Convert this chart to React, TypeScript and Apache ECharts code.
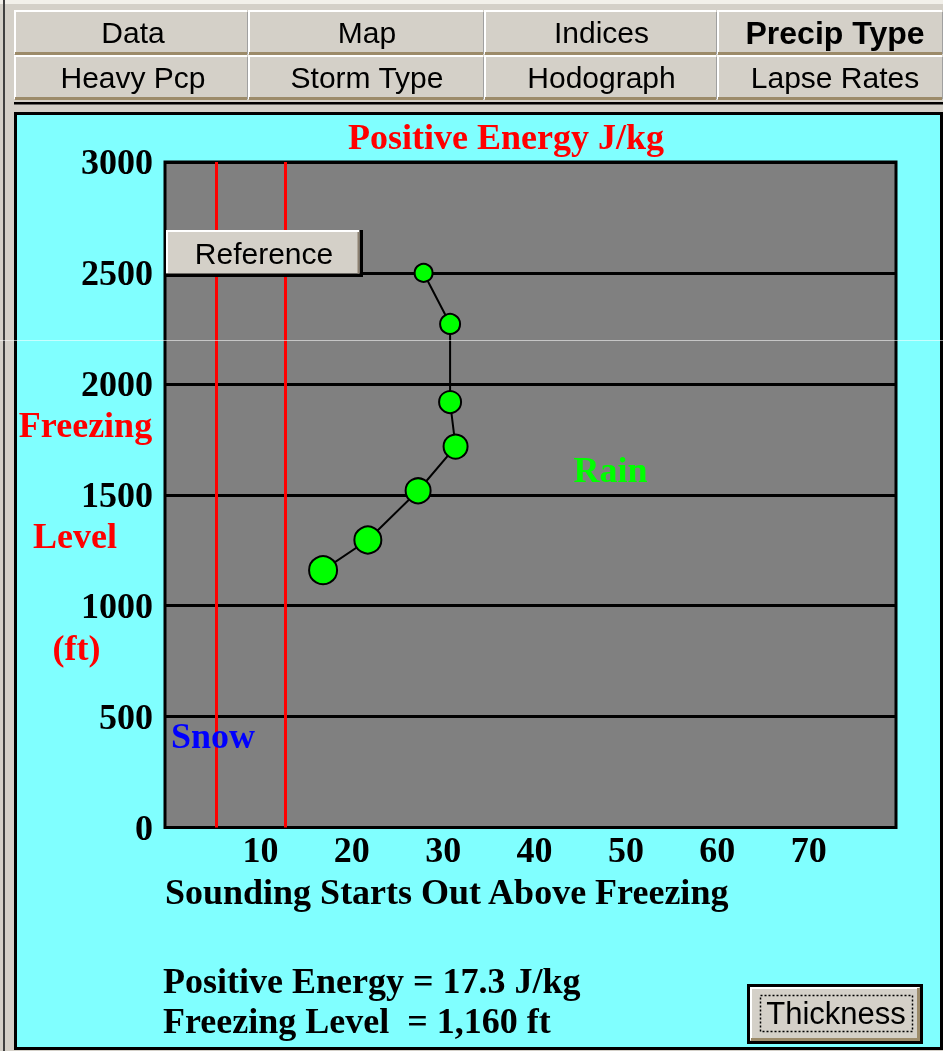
import React, { useEffect, useRef } from 'react';
import * as echarts from 'echarts';

// ---- data ----
const energy = [28.3, 31.2, 31.2, 31.8, 27.7, 22.2, 17.3]; // J/kg
const freezingLevel = [2500, 2270, 1918, 1717, 1518, 1296, 1160]; // ft
const markerSizes = [18, 20, 22, 24, 25, 27, 28];
const thresholds = [5.6, 13.2]; // snow / rain thresholds J/kg
const xTickLabels = ['10', '20', '30', '40', '50', '60', '70'];
const yTickLabels = ['0', '500', '1000', '1500', '2000', '2500', '3000'];
const tabRow1 = ['Data', 'Map', 'Indices', 'Precip Type'];
const tabRow2 = ['Heavy Pcp', 'Storm Type', 'Hodograph', 'Lapse Rates'];

const SERIF = '"Liberation Serif", "Times New Roman", serif';
const SANS = '"Liberation Sans", Arial, sans-serif';
const BEIGE = '#d4d0c8';
const SHADOW = '#9c8b6a';

function txt(text: string, x: number, y: number, opts: any = {}) {
  const align = opts.align || 'center';
  return {
    type: 'text',
    x,
    y,
    z: opts.z ?? 30,
    style: {
      text,
      fill: opts.color || '#000',
      fontSize: opts.size || 36,
      fontFamily: opts.family || SERIF,
      fontWeight: opts.weight || 'bold',
      align,
      verticalAlign: 'middle',
      textAlign: align,
      textVerticalAlign: 'middle',
    },
  };
}

function button(x0: number, y0: number, x1: number, y1: number, z: number) {
  return [
    { type: 'rect', z, shape: { x: x0, y: y0, width: x1 - x0, height: y1 - y0 }, style: { fill: BEIGE } },
    {
      type: 'polyline', z: z + 1,
      shape: { points: [[x0 + 1, y1 - 1], [x0 + 1, y0 + 1], [x1 - 1, y0 + 1]] },
      style: { stroke: '#ffffff', lineWidth: 2, fill: null },
    },
    {
      type: 'polyline', z: z + 1,
      shape: { points: [[x0 + 1, y1 - 1.5], [x1 - 1, y1 - 1.5]] },
      style: { stroke: SHADOW, lineWidth: 3, fill: null },
    },
    {
      type: 'line', z: z + 1,
      shape: { x1: x1 - 0.5, y1: y0 + 2, x2: x1 - 0.5, y2: y1 - 1 },
      style: { stroke: '#a0a0a0', lineWidth: 1 },
    },
  ];
}

function buildGraphics() {
  const g: any[] = [];
  // window background
  g.push({ type: 'rect', z: -30, shape: { x: 0, y: 0, width: 943, height: 1051 }, style: { fill: BEIGE } });
  g.push({ type: 'rect', z: -29, shape: { x: 0, y: 0, width: 943, height: 4 }, style: { fill: '#f2f0ea' } });
  g.push({ type: 'rect', z: -29, shape: { x: 3, y: 0, width: 2, height: 1051 }, style: { fill: '#404040' } });

  // tabs
  const cols = [14, 248, 484, 717, 943];
  const rows = [[10, 55], [55, 100]];
  [tabRow1, tabRow2].forEach((row, r) => {
    row.forEach((label, c) => {
      const x0 = cols[c];
      const x1 = cols[c + 1];
      const [y0, y1] = rows[r];
      g.push(...button(x0, y0, x1, y1, -25));
      const bold = r === 0 && c === 3;
      g.push(txt(label, (x0 + x1) / 2 + (c === 0 ? 2 : c === 3 ? 5 : 1), (y0 + y1) / 2, {
        family: SANS, size: bold ? 32 : 30, weight: bold ? 'bold' : 'normal', z: -20,
      }));
    });
  });
  g.push({ type: 'rect', z: -24, shape: { x: 14, y: 102, width: 929, height: 2.5 }, style: { fill: '#000' } });

  // cyan panel
  g.push({
    type: 'rect', z: -22,
    shape: { x: 15.5, y: 113.5, width: 926, height: 935 },
    style: { fill: '#80ffff', stroke: '#000', lineWidth: 3 },
  });

  // titles and labels
  g.push(txt('Positive Energy J/kg', 506, 137, { color: '#ff0000' }));
  g.push(txt('Freezing', 85.5, 425, { color: '#ff0000' }));
  g.push(txt('Level', 75, 536, { color: '#ff0000' }));
  g.push(txt('(ft)', 76.5, 648, { color: '#ff0000' }));
  g.push(txt('Snow', 213, 736, { color: '#0000ff' }));
  g.push(txt('Rain', 610.5, 470, { color: '#00ff00' }));
  g.push(txt('Sounding Starts Out Above Freezing', 165, 892, { align: 'left' }));
  g.push(txt('Positive Energy = 17.3 J/kg', 163, 981, { align: 'left' }));
  g.push(txt('Freezing Level  = 1,160 ft', 163, 1021, { align: 'left' }));

  // Reference button
  g.push({ type: 'rect', z: 40, shape: { x: 166, y: 230, width: 197, height: 47 }, style: { fill: '#000' } });
  g.push({ type: 'rect', z: 41, shape: { x: 166, y: 230, width: 193.5, height: 43.5 }, style: { fill: BEIGE } });
  g.push({
    type: 'polyline', z: 42,
    shape: { points: [[167, 273], [167, 231], [359, 231]] },
    style: { stroke: '#ffffff', lineWidth: 2, fill: null },
  });
  g.push({
    type: 'line', z: 42,
    shape: { x1: 358.5, y1: 232, x2: 358.5, y2: 273.5 },
    style: { stroke: '#8c8070', lineWidth: 2 },
  });
  g.push(txt('Reference', 264, 253, { family: SANS, size: 30, weight: 'normal', z: 43 }));

  // Thickness button
  g.push({ type: 'rect', z: 40, shape: { x: 747, y: 984, width: 176, height: 60 }, style: { fill: '#000' } });
  g.push({ type: 'rect', z: 41, shape: { x: 750, y: 987, width: 170, height: 54 }, style: { fill: BEIGE } });
  g.push({
    type: 'polyline', z: 42,
    shape: { points: [[751, 1040], [751, 988], [919, 988]] },
    style: { stroke: '#ffffff', lineWidth: 2, fill: null },
  });
  g.push({
    type: 'polyline', z: 42,
    shape: { points: [[751, 1039.5], [918.5, 1039.5], [918.5, 988]] },
    style: { stroke: SHADOW, lineWidth: 3, fill: null },
  });
  g.push({
    type: 'rect', z: 42,
    shape: { x: 760.5, y: 995.5, width: 152, height: 36 },
    style: { fill: null, stroke: '#000', lineWidth: 1.5, lineDash: [2, 2] },
  });
  g.push(txt('Thickness', 836, 1013, { family: SANS, size: 31, weight: 'normal', z: 43 }));

  // faint scan line artefact
  g.push({
    type: 'line', z: 60,
    shape: { x1: 0, y1: 340.5, x2: 943, y2: 340.5 },
    style: { stroke: 'rgba(255,255,255,0.55)', lineWidth: 1 },
  });
  return g;
}

const option: any = {
  animation: false,
  backgroundColor: 'transparent',
  grid: {
    show: true,
    left: 165,
    top: 162,
    width: 731,
    height: 665.5,
    backgroundColor: '#808080',
    borderColor: '#000',
    borderWidth: 3,
    z: 0,
  },
  xAxis: {
    type: 'value',
    min: 0,
    max: 80,
    interval: 10,
    axisLine: { show: false },
    axisTick: { show: false },
    splitLine: { show: false },
    axisLabel: {
      margin: 4,
      color: '#000',
      fontFamily: SERIF,
      fontWeight: 'bold',
      fontSize: 36,
      padding: [0, 0, 0, 8],
      formatter: (v: number) => (xTickLabels.includes(String(v)) ? String(v) : ''),
    },
  },
  yAxis: {
    type: 'value',
    min: 0,
    max: 3000,
    interval: 500,
    axisLine: { show: false },
    axisTick: { show: false },
    splitLine: { show: true, lineStyle: { color: '#000', width: 3 } },
    axisLabel: {
      margin: 12,
      color: '#000',
      fontFamily: SERIF,
      fontWeight: 'bold',
      fontSize: 36,
      formatter: (v: number) => (yTickLabels.includes(String(v)) ? String(v) : ''),
    },
  },
  series: [
    {
      type: 'line',
      data: energy.map((e, i) => [e, freezingLevel[i]]),
      symbol: 'circle',
      symbolSize: (_v: any, p: any) => markerSizes[p.dataIndex],
      itemStyle: { color: '#00ff00', borderColor: '#000', borderWidth: 2 },
      lineStyle: { color: '#000', width: 2 },
      z: 5,
      markLine: {
        silent: true,
        symbol: 'none',
        label: { show: false },
        lineStyle: { color: '#ff0000', width: 3, type: 'solid' },
        data: thresholds.map((t) => ({ xAxis: t })),
        z: 3,
      },
    },
  ],
  graphic: { elements: buildGraphics() },
};

export default function App() {
  const ref = useRef<HTMLDivElement>(null);
  useEffect(() => {
    const chart = echarts.init(ref.current as HTMLDivElement, null, { renderer: 'svg' });
    chart.setOption(option);
    return () => chart.dispose();
  }, []);
  return (
    <div
      ref={ref}
      style={{ position: 'fixed', left: 0, top: 0, width: 943, height: 1051 }}
    />
  );
}
